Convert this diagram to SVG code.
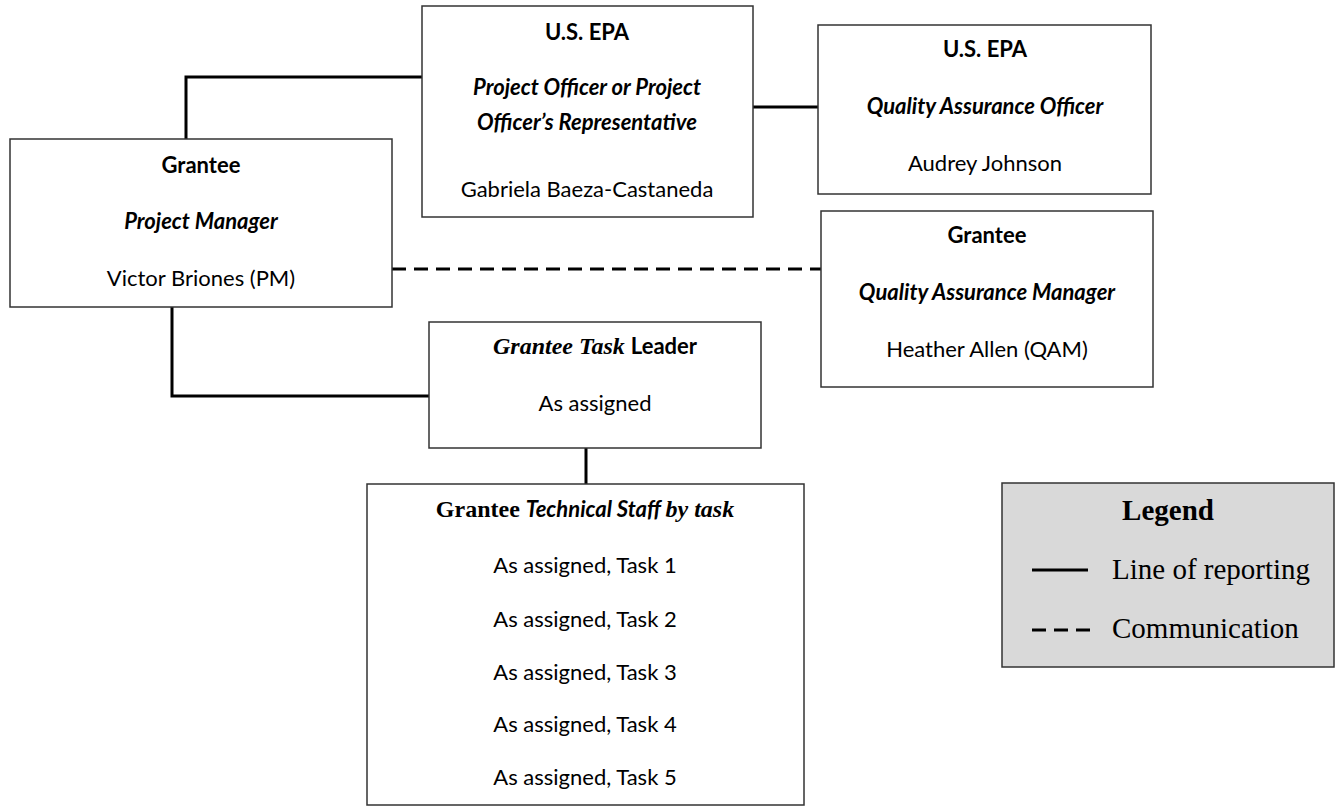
<svg xmlns="http://www.w3.org/2000/svg" width="1336" height="806" viewBox="0 0 1336 806">
<style>
.box{fill:#fff;stroke:#333;stroke-width:1.5}
.leg{fill:#d9d9d9;stroke:#333;stroke-width:1.5}
.c{font-family:Lato,"Liberation Sans",sans-serif;font-size:22px;fill:#000;text-anchor:middle}
.b{font-weight:bold}
.i{font-style:italic}
.t{font-family:"Liberation Serif","Times New Roman",serif;font-size:24px}
.lt{font-family:"Liberation Serif","Times New Roman",serif;font-size:29px;fill:#000}
.line{fill:none;stroke:#000;stroke-width:3}
.dash{fill:none;stroke:#000;stroke-width:3;stroke-dasharray:14,8}
</style>
<g id="connectors">
<polyline class="line" points="186,139 186,77 422,77"/>
<line class="line" x1="753" y1="107" x2="818" y2="107"/>
<line class="dash" x1="392" y1="269" x2="821" y2="269"/>
<polyline class="line" points="172,307 172,396 429,396"/>
<line class="line" x1="586" y1="448" x2="586" y2="484"/>
</g>
<g id="pm">
<rect class="box" x="10" y="139" width="382" height="168"/>
<text class="c b" x="201" y="173">Grantee</text>
<text class="c b i" x="201" y="229">Project Manager</text>
<text class="c" x="201" y="286">Victor Briones (PM)</text>
</g>
<g id="po">
<rect class="box" x="422" y="6" width="331" height="211"/>
<text class="c b" x="587" y="40">U.S. EPA</text>
<text class="c b i" x="587" y="95">Project Officer or Project</text>
<text class="c b i" x="587" y="130">Officer’s Representative</text>
<text class="c" x="587" y="197">Gabriela Baeza-Castaneda</text>
</g>
<g id="qao">
<rect class="box" x="818" y="25" width="333" height="169"/>
<text class="c b" x="985" y="57">U.S. EPA</text>
<text class="c b i" x="985" y="114">Quality Assurance Officer</text>
<text class="c" x="985" y="171">Audrey Johnson</text>
</g>
<g id="qam">
<rect class="box" x="821" y="211" width="332" height="176"/>
<text class="c b" x="987" y="243">Grantee</text>
<text class="c b i" x="987" y="300">Quality Assurance Manager</text>
<text class="c" x="987" y="357">Heather Allen (QAM)</text>
</g>
<g id="tl">
<rect class="box" x="429" y="322" width="332" height="126"/>
<text class="c" x="595" y="354"><tspan class="t b i">Grantee Task </tspan><tspan class="b">Leader</tspan></text>
<text class="c" x="595" y="411">As assigned</text>
</g>
<g id="staff">
<rect class="box" x="367" y="484" width="437" height="321"/>
<text class="c" x="585" y="517"><tspan class="t b">Grantee </tspan><tspan class="b i">Technical Staff </tspan><tspan class="t b i">by task</tspan></text>
<text class="c" x="585" y="573">As assigned, Task 1</text>
<text class="c" x="585" y="627">As assigned, Task 2</text>
<text class="c" x="585" y="680">As assigned, Task 3</text>
<text class="c" x="585" y="732">As assigned, Task 4</text>
<text class="c" x="585" y="785">As assigned, Task 5</text>
</g>
<g id="legend">
<rect class="leg" x="1002" y="483" width="332" height="184"/>
<text class="lt b" x="1168" y="520" text-anchor="middle">Legend</text>
<line class="line" x1="1032" y1="570" x2="1088" y2="570"/>
<text class="lt" x="1112" y="579">Line of reporting</text>
<line class="dash" x1="1032" y1="630" x2="1090" y2="630" stroke-dasharray="13,9"/>
<text class="lt" x="1112" y="638">Communication</text>
</g>
</svg>
